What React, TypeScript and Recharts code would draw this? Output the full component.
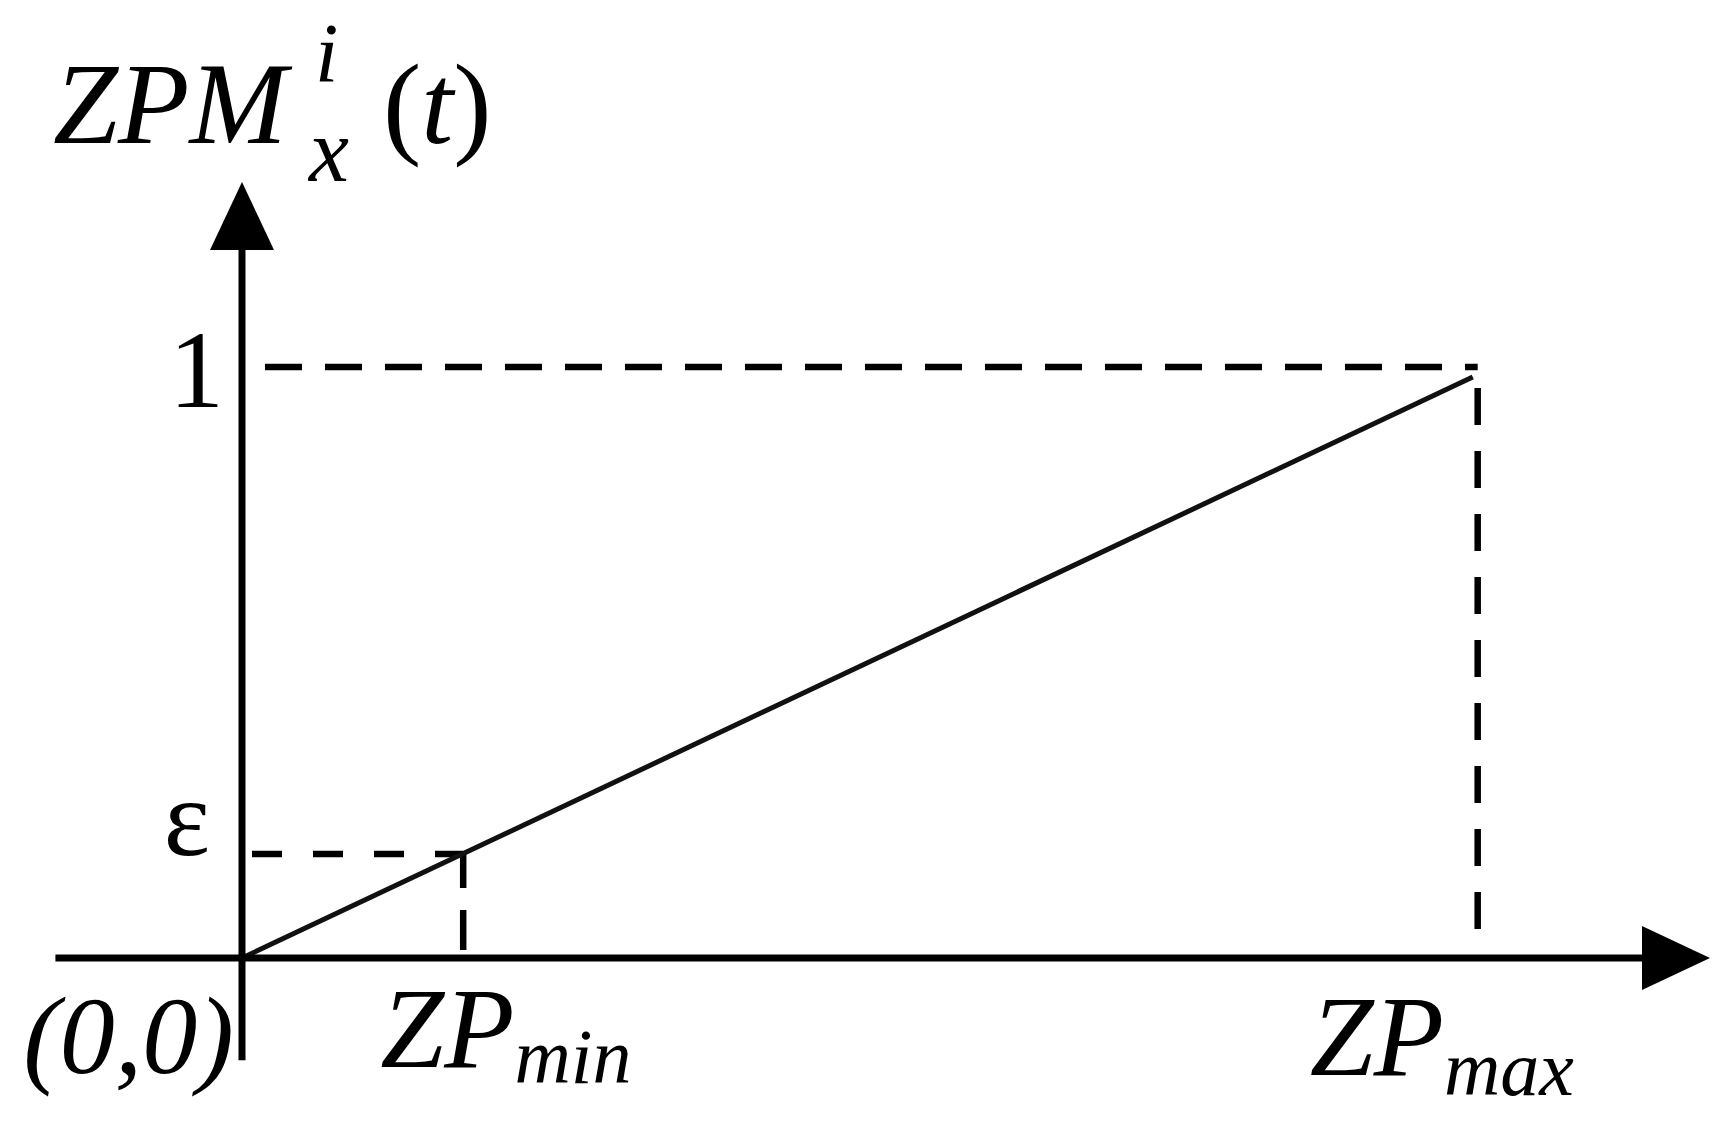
import React from 'react';
import { LineChart, Line, XAxis, YAxis, ReferenceLine, ReferenceDot } from 'recharts';

// ---- data ----
const lineX = [0, 0.996];
const lineY = [0, 0.983];
const xTickValues = [0.179, 1];
const xTickNames = ['ZP', 'ZP'];
const xTickSubs = ['min', 'max'];
const yTickValues = [0.176, 1];
const yTickLabels = ['ε', '1'];
const originPoint = [0, 0];
const originLabel = '(0,0)';
const titleParts = ['ZPM', 'i', 'x', 't'];

// ---- axis geometry ----
const X_DOMAIN: [number, number] = [0, 1.188];
const Y_DOMAIN: [number, number] = [0, 1.313];
const X_AXIS_START = -0.151;
const Y_AXIS_START = -0.173;

const FONT = '"Liberation Serif", "Times New Roman", serif';
const INK = '#000';

const data = lineX.map((x, i) => ({ x, y: lineY[i] }));

const xTickStyle: Record<string, { dx: number; base: number; sub: number }> = {
  min: { dx: -83, base: 109, sub: 16 },
  max: { dx: -168, base: 117, sub: 20 },
};
const yTickStyle: Record<string, { dx: number; base: number }> = {
  'ε': { dx: -32, base: 1 },
  '1': { dx: -18, base: 40 },
};

const XTick = (props: any) => {
  const { x, y, payload } = props;
  const i = xTickValues.indexOf(payload.value);
  if (i < 0) return null;
  const sub = xTickSubs[i];
  const st = xTickStyle[sub];
  return (
    <text x={x + st.dx} y={y + st.base} fontFamily={FONT} fill={INK} fontStyle="italic" textAnchor="start">
      <tspan fontSize={115}>{xTickNames[i]}</tspan>
      <tspan fontSize={78} dy={st.sub}>{sub}</tspan>
    </text>
  );
};

const YTick = (props: any) => {
  const { x, y, payload } = props;
  const i = yTickValues.indexOf(payload.value);
  if (i < 0) return null;
  const lab = yTickLabels[i];
  const st = yTickStyle[lab];
  return (
    <text x={x + st.dx} y={y + st.base} fontFamily={FONT} fill={INK} fontSize={110} textAnchor="end">
      {lab}
    </text>
  );
};

const renderTitle = (props: any) => {
  const vb = props.viewBox || { x: 0, y: 182 };
  const x0 = vb.x + 53;
  const base = vb.y - 39;
  return (
    <g>
      <text fontFamily={FONT} fill={INK}>
        <tspan x={x0} y={base} fontSize={117} fontStyle="italic">{titleParts[0]}</tspan>
        <tspan x={x0 + 330} y={base} fontSize={115}>(</tspan>
        <tspan fontSize={115} fontStyle="italic">{titleParts[3]}</tspan>
        <tspan fontSize={115}>)</tspan>
      </text>
      <text x={x0 + 262} y={base - 61} fontFamily={FONT} fill={INK} fontSize={84} fontStyle="italic">{titleParts[1]}</text>
      <text x={x0 + 256} y={base + 38} fontFamily={FONT} fill={INK} fontSize={90} fontStyle="italic">{titleParts[2]}</text>
    </g>
  );
};

const HEAD = 68;
const HALF = 32;
const AXIS_W = 7;

const XArrowAxis = (p: any) => {
  const { x1, y1, x2, y2 } = p;
  return (
    <g>
      <line x1={x1} y1={y1} x2={x2 - HEAD + 4} y2={y2} stroke={INK} strokeWidth={AXIS_W} />
      <polygon points={`${x2},${y2} ${x2 - HEAD},${y2 - HALF} ${x2 - HEAD},${y2 + HALF}`} fill={INK} />
    </g>
  );
};

const YArrowAxis = (p: any) => {
  const { x1, y1, x2, y2 } = p;
  return (
    <g>
      <line x1={x1} y1={y1} x2={x2} y2={y2 + HEAD - 4} stroke={INK} strokeWidth={AXIS_W} />
      <polygon points={`${x2},${y2} ${x2 - HALF},${y2 + HEAD} ${x2 + HALF},${y2 + HEAD}`} fill={INK} />
    </g>
  );
};

const dashed = (dash: string, offset: number) => (p: any) => (
  <line x1={p.x1} y1={p.y1} x2={p.x2} y2={p.y2} stroke={INK} strokeWidth={6.5}
    strokeDasharray={dash} strokeDashoffset={offset} />
);

const OriginText = (p: any) => (
  <text x={p.cx - 8} y={p.cy + 115} fontFamily={FONT} fontStyle="italic" fontSize={110} fill={INK} textAnchor="end">
    {originLabel}
  </text>
);

export default function App() {
  return (
    <div style={{ position: 'absolute', left: 0, top: 0, width: 1731, height: 1132, background: '#fff' }}>
      <LineChart width={1731} height={1132} data={data} margin={{ top: 182, right: 21, left: 0, bottom: 0 }}>
        <XAxis dataKey="x" type="number" domain={X_DOMAIN} allowDataOverflow ticks={xTickValues} interval={0}
          height={174} axisLine={false} tickLine={false} tickSize={0} tickMargin={0} tick={<XTick />} />
        <YAxis type="number" domain={Y_DOMAIN} allowDataOverflow ticks={yTickValues} interval={0}
          width={242} axisLine={false} tickLine={false} tickSize={0} tickMargin={0} tick={<YTick />}
          label={{ content: renderTitle }} />
        <ReferenceLine segment={[{ x: 0, y: 1 }, { x: 1, y: 1 }]} ifOverflow="visible" shape={dashed('37 23', 37)} />
        <ReferenceLine segment={[{ x: 1, y: 1 }, { x: 1, y: 0 }]} ifOverflow="visible" shape={dashed('37 26', 42)} />
        <ReferenceLine segment={[{ x: 0, y: yTickValues[0] }, { x: xTickValues[0], y: yTickValues[0] }]} ifOverflow="visible" shape={dashed('30 31', 51)} />
        <ReferenceLine segment={[{ x: xTickValues[0], y: yTickValues[0] }, { x: xTickValues[0], y: 0 }]} ifOverflow="visible" shape={dashed('34 22 40 22', 0)} />
        <Line dataKey="y" type="linear" stroke="#111" strokeWidth={5} dot={false} activeDot={false} isAnimationActive={false} />
        <ReferenceLine segment={[{ x: X_AXIS_START, y: 0 }, { x: X_DOMAIN[1], y: 0 }]} ifOverflow="visible" shape={XArrowAxis} />
        <ReferenceLine segment={[{ x: 0, y: Y_AXIS_START }, { x: 0, y: Y_DOMAIN[1] }]} ifOverflow="visible" shape={YArrowAxis} />
        <ReferenceDot x={originPoint[0]} y={originPoint[1]} r={0} ifOverflow="visible" shape={OriginText} />
      </LineChart>
    </div>
  );
}
